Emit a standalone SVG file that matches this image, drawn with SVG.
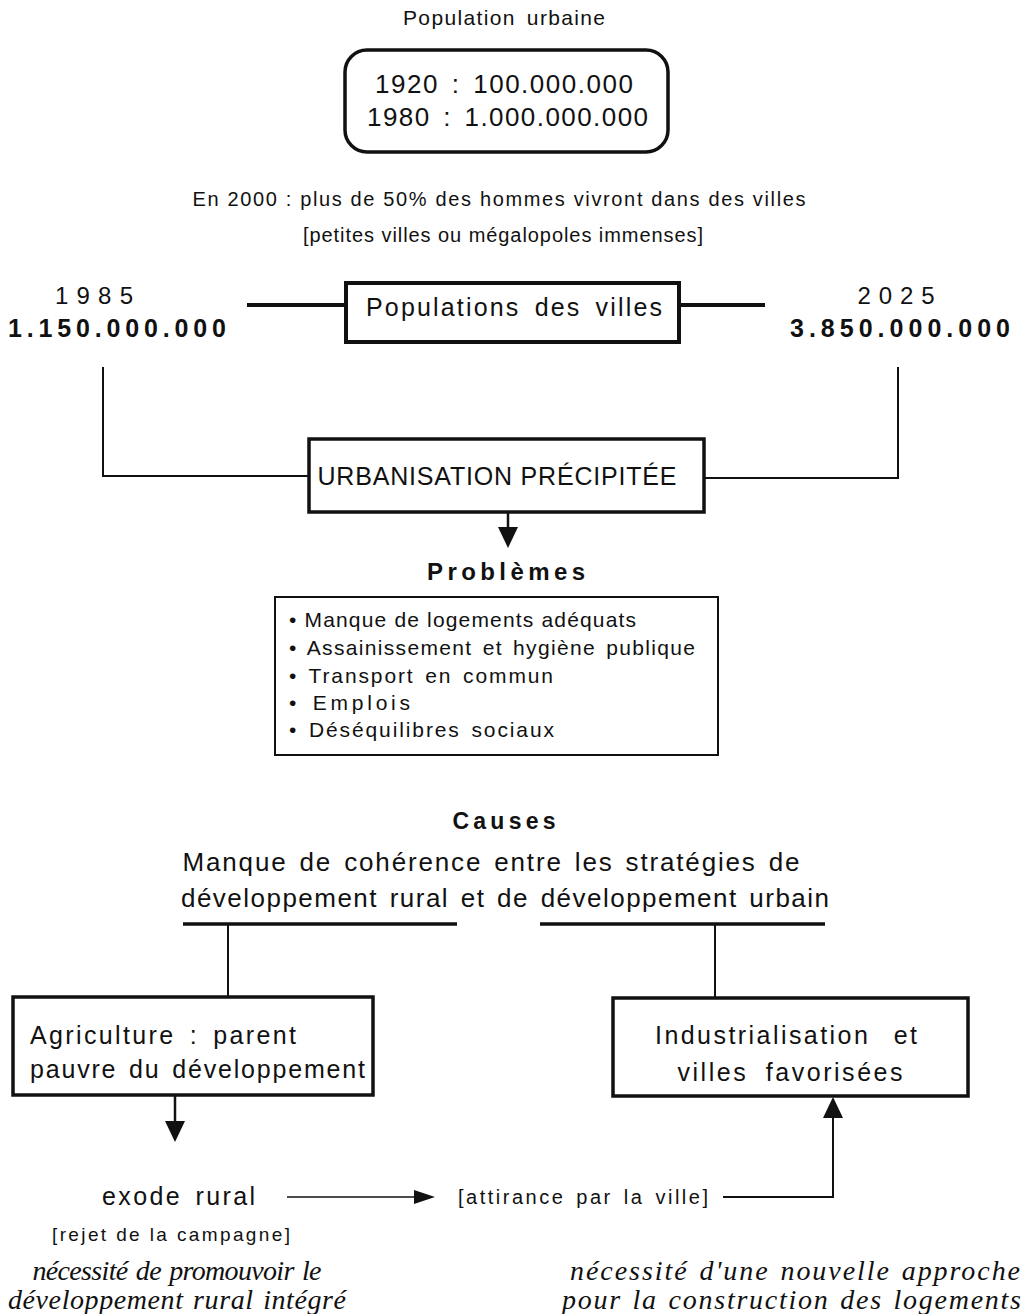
<svg xmlns="http://www.w3.org/2000/svg" width="1024" height="1314" viewBox="0 0 1024 1314">
<defs>
<style>
text{font-family:"Liberation Sans",Arial,sans-serif;fill:#111}
.c{text-anchor:middle}
.b{font-weight:bold}
.it{font-family:"Liberation Serif","Times New Roman",serif;font-style:italic;font-size:28px}
.box{fill:#fff;stroke:#111}
.ln{stroke:#111;fill:none}
</style>
</defs>
<text class="c" x="504" y="25" font-size="21" textLength="202" word-spacing="4">Population urbaine</text>
<g id="n_pop">
<rect class="box" x="345" y="50" width="323" height="102" rx="22" stroke-width="3.5"/>
<text x="375" y="93" font-size="26" textLength="258" word-spacing="4">1920 : 100.000.000</text>
<text x="367" y="126" font-size="26" textLength="281" word-spacing="4">1980 : 1.000.000.000</text>
</g>
<text class="c" x="499" y="206" font-size="20" textLength="613">En 2000 : plus de 50% des hommes vivront dans des villes</text>
<text class="c" x="503" y="242" font-size="20" textLength="400">[petites villes ou mégalopoles immenses]</text>
<g id="n_1985">
<text class="c" x="94" y="304" font-size="24" textLength="78">1985</text>
<text class="c b" x="117" y="337" font-size="25" textLength="218">1.150.000.000</text>
</g>
<g id="n_2025">
<text class="c" x="896" y="304" font-size="24" textLength="77">2025</text>
<text class="c b" x="900" y="337" font-size="25" textLength="220">3.850.000.000</text>
</g>
<g id="n_villes">
<rect class="box" x="346" y="283" width="333" height="59" stroke-width="4"/>
<text class="c" x="514" y="316" font-size="25" textLength="296" word-spacing="5">Populations des villes</text>
</g>
<g id="n_urb">
<rect class="box" x="309" y="439" width="395" height="73" stroke-width="3.5"/>
<text class="c" x="497" y="485" font-size="25" textLength="359">URBANISATION PRÉCIPITÉE</text>
</g>
<text class="c b" x="506" y="580" font-size="24" textLength="158">Problèmes</text>
<g id="n_prob">
<rect class="box" x="275" y="597" width="443" height="158" stroke-width="2"/>
<text x="289" y="627" font-size="21" textLength="347">• Manque de logements adéquats</text>
<text x="289" y="655" font-size="21" textLength="406" word-spacing="3">• Assainissement et hygiène publique</text>
<text x="289" y="683" font-size="21" textLength="264" word-spacing="3">• Transport en commun</text>
<text x="289" y="710" font-size="21" textLength="121" word-spacing="3">• Emplois</text>
<text x="289" y="737" font-size="21" textLength="265" word-spacing="3">• Déséquilibres sociaux</text>
</g>
<text class="c b" x="504" y="829" font-size="23" textLength="103">Causes</text>
<g id="n_causes">
<text class="c" x="491" y="871" font-size="26" textLength="617" word-spacing="3">Manque de cohérence entre les stratégies de</text>
<text class="c" x="505" y="907" font-size="26" textLength="648" word-spacing="3">développement rural et de développement urbain</text>
</g>
<g id="n_agri">
<rect class="box" x="13" y="997" width="360" height="98" stroke-width="3.5"/>
<text x="30" y="1044" font-size="25" textLength="266" word-spacing="5">Agriculture : parent</text>
<text x="30" y="1078" font-size="25" textLength="335" word-spacing="3">pauvre du développement</text>
</g>
<g id="n_indus">
<rect class="box" x="613" y="998" width="355" height="98" stroke-width="3.5"/>
<text class="c" x="786" y="1044" font-size="25" textLength="262" word-spacing="14">Industrialisation et</text>
<text class="c" x="790" y="1081" font-size="25" textLength="225" word-spacing="8">villes favorisées</text>
</g>
<g id="n_exode">
<text x="102" y="1205" font-size="25" textLength="153" word-spacing="4">exode rural</text>
<text x="52" y="1241" font-size="19" textLength="238">[rejet de la campagne]</text>
</g>
<g id="n_attir">
<text x="458" y="1204" font-size="20" textLength="250" word-spacing="3">[attirance par la ville]</text>
</g>
<g id="n_nec1">
<text class="it c" x="177" y="1280" textLength="289" word-spacing="2">nécessité de promouvoir le</text>
<text class="it c" x="177" y="1309" textLength="338" word-spacing="2">développement rural intégré</text>
</g>
<g id="n_nec2">
<text class="it" x="570" y="1280" textLength="450" word-spacing="2">nécessité d'une nouvelle approche</text>
<text class="it" x="562" y="1309" textLength="459" word-spacing="2">pour la construction des logements</text>
</g>
<g id="connectors">
<line class="ln" x1="247" y1="305" x2="346" y2="305" stroke-width="4"/>
<line class="ln" x1="679" y1="305" x2="765" y2="305" stroke-width="4"/>
<polyline class="ln" points="103,367 103,476 309,476" stroke-width="2"/>
<polyline class="ln" points="898,367 898,478 704,478" stroke-width="2"/>
<line class="ln" x1="508" y1="512" x2="508" y2="527" stroke-width="2.5"/>
<path d="M498,527 L518,527 L508,548 Z" fill="#111"/>
<line class="ln" x1="183" y1="924" x2="457" y2="924" stroke-width="3.5"/>
<line class="ln" x1="540" y1="924" x2="825" y2="924" stroke-width="3.5"/>
<line class="ln" x1="228" y1="924" x2="228" y2="997" stroke-width="2"/>
<line class="ln" x1="715" y1="924" x2="715" y2="998" stroke-width="2"/>
<line class="ln" x1="175" y1="1095" x2="175" y2="1122" stroke-width="2.5"/>
<path d="M165,1121 L185,1121 L175,1142 Z" fill="#111"/>
<line class="ln" x1="287" y1="1197" x2="416" y2="1197" stroke-width="1.5"/>
<path d="M414,1190 L435,1197 L414,1204 Z" fill="#111"/>
<polyline class="ln" points="723,1197 833,1197 833,1117" stroke-width="2"/>
<path d="M823,1118 L843,1118 L833,1097 Z" fill="#111"/>
</g>
</svg>
